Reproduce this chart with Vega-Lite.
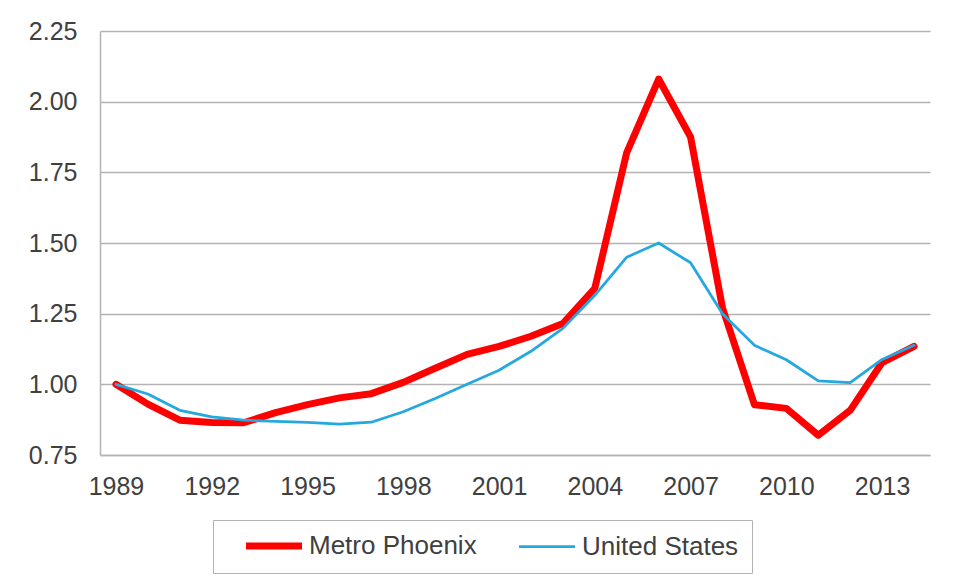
{
  "$schema": "https://vega.github.io/schema/vega-lite/v6.json",
  "autosize": "none",
  "width": 830,
  "height": 424,
  "padding": {"left": 100, "top": 31, "right": 24, "bottom": 120},
  "background": "white",
  "config": {
    "view": {"stroke": null},
    "font": "Liberation Sans",
    "axis": {"labelFont": "Liberation Sans", "labelFontSize": 25, "labelColor": "#404040", "domainColor": "#b3b3b3", "domainWidth": 1.5, "gridColor": "#b3b3b3", "gridWidth": 1.5, "ticks": false}
  },
  "data": {
    "values": [
      {"year": 1989, "series": "Metro Phoenix", "value": 1.0},
      {"year": 1990, "series": "Metro Phoenix", "value": 0.93},
      {"year": 1991, "series": "Metro Phoenix", "value": 0.873},
      {"year": 1992, "series": "Metro Phoenix", "value": 0.865},
      {"year": 1993, "series": "Metro Phoenix", "value": 0.864},
      {"year": 1994, "series": "Metro Phoenix", "value": 0.9},
      {"year": 1995, "series": "Metro Phoenix", "value": 0.928},
      {"year": 1996, "series": "Metro Phoenix", "value": 0.952},
      {"year": 1997, "series": "Metro Phoenix", "value": 0.967},
      {"year": 1998, "series": "Metro Phoenix", "value": 1.007},
      {"year": 1999, "series": "Metro Phoenix", "value": 1.057},
      {"year": 2000, "series": "Metro Phoenix", "value": 1.106},
      {"year": 2001, "series": "Metro Phoenix", "value": 1.134},
      {"year": 2002, "series": "Metro Phoenix", "value": 1.17},
      {"year": 2003, "series": "Metro Phoenix", "value": 1.215},
      {"year": 2004, "series": "Metro Phoenix", "value": 1.34},
      {"year": 2005, "series": "Metro Phoenix", "value": 1.82},
      {"year": 2006, "series": "Metro Phoenix", "value": 2.08},
      {"year": 2007, "series": "Metro Phoenix", "value": 1.875},
      {"year": 2008, "series": "Metro Phoenix", "value": 1.27},
      {"year": 2009, "series": "Metro Phoenix", "value": 0.928},
      {"year": 2010, "series": "Metro Phoenix", "value": 0.915},
      {"year": 2011, "series": "Metro Phoenix", "value": 0.82},
      {"year": 2012, "series": "Metro Phoenix", "value": 0.908},
      {"year": 2013, "series": "Metro Phoenix", "value": 1.077},
      {"year": 2014, "series": "Metro Phoenix", "value": 1.134},
      {"year": 1989, "series": "United States", "value": 1.0},
      {"year": 1990, "series": "United States", "value": 0.966},
      {"year": 1991, "series": "United States", "value": 0.908},
      {"year": 1992, "series": "United States", "value": 0.885},
      {"year": 1993, "series": "United States", "value": 0.873},
      {"year": 1994, "series": "United States", "value": 0.869},
      {"year": 1995, "series": "United States", "value": 0.865},
      {"year": 1996, "series": "United States", "value": 0.859},
      {"year": 1997, "series": "United States", "value": 0.866},
      {"year": 1998, "series": "United States", "value": 0.903},
      {"year": 1999, "series": "United States", "value": 0.95},
      {"year": 2000, "series": "United States", "value": 1.0},
      {"year": 2001, "series": "United States", "value": 1.05},
      {"year": 2002, "series": "United States", "value": 1.117},
      {"year": 2003, "series": "United States", "value": 1.198},
      {"year": 2004, "series": "United States", "value": 1.315},
      {"year": 2005, "series": "United States", "value": 1.45},
      {"year": 2006, "series": "United States", "value": 1.5},
      {"year": 2007, "series": "United States", "value": 1.43},
      {"year": 2008, "series": "United States", "value": 1.25},
      {"year": 2009, "series": "United States", "value": 1.138},
      {"year": 2010, "series": "United States", "value": 1.087},
      {"year": 2011, "series": "United States", "value": 1.012},
      {"year": 2012, "series": "United States", "value": 1.006},
      {"year": 2013, "series": "United States", "value": 1.088},
      {"year": 2014, "series": "United States", "value": 1.138}
    ]
  },
  "mark": {"type": "line", "strokeJoin": "round", "strokeCap": "round"},
  "encoding": {
    "x": {
      "field": "year", "type": "quantitative",
      "scale": {"domain": [1988.5, 2014.5], "nice": false, "zero": false},
      "axis": {"title": null, "grid": false, "values": [1989, 1992, 1995, 1998, 2001, 2004, 2007, 2010, 2013], "format": "d", "labelPadding": 19, "labelFlush": false}
    },
    "y": {
      "field": "value", "type": "quantitative",
      "scale": {"domain": [0.75, 2.25], "nice": false, "zero": false},
      "axis": {"title": null, "values": [0.75, 1.0, 1.25, 1.5, 1.75, 2.0, 2.25], "format": ".2f", "labelPadding": 23}
    },
    "color": {
      "field": "series", "type": "nominal",
      "scale": {"domain": ["Metro Phoenix", "United States"], "range": ["#ff0000", "#24a8df"]},
      "legend": {
        "title": null, "orient": "none", "direction": "horizontal", "legendX": 113, "legendY": 489,
        "strokeColor": "#b3b3b3", "padding": 13,
        "symbolType": "M-5.6,0H5.6", "symbolSize": 100, "symbolOffset": 35, "labelOffset": 22, "columnPadding": 22,
        "labelFont": "Liberation Sans", "labelFontSize": 26, "labelColor": "#404040", "labelLimit": 400
      }
    },
    "strokeWidth": {
      "field": "series", "type": "nominal",
      "scale": {"domain": ["Metro Phoenix", "United States"], "range": [7, 2.75]},
      "legend": {
        "title": null, "orient": "none", "direction": "horizontal", "legendX": 113, "legendY": 489,
        "strokeColor": "#b3b3b3", "padding": 13,
        "symbolType": "M-5.6,0H5.6", "symbolSize": 100, "symbolOffset": 35, "labelOffset": 22, "columnPadding": 22,
        "labelFont": "Liberation Sans", "labelFontSize": 26, "labelColor": "#404040", "labelLimit": 400
      }
    }
  }
}
